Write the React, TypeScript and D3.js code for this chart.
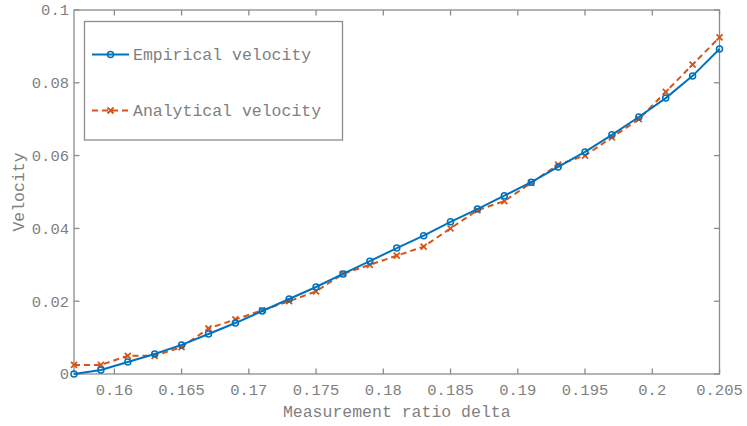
import React, { useEffect, useRef } from 'react';
import * as d3 from 'd3';

// x positions of the measurements
const deltas = [
  0.157, 0.159, 0.161, 0.163, 0.165, 0.167, 0.169, 0.171, 0.173, 0.175,
  0.177, 0.179, 0.181, 0.183, 0.185, 0.187, 0.189, 0.191, 0.193, 0.195,
  0.197, 0.199, 0.201, 0.203, 0.205,
];
const empirical = [
  0, 0.0011, 0.0033, 0.0055, 0.008, 0.011, 0.014, 0.0173, 0.0206, 0.0239,
  0.0275, 0.031, 0.0346, 0.038, 0.0418, 0.0453, 0.049, 0.0527, 0.0569, 0.061,
  0.0657, 0.0706, 0.0758, 0.0819, 0.0893,
];
const analytical = [
  0.0025, 0.0025, 0.005, 0.005, 0.0074, 0.0125, 0.015, 0.0175, 0.02, 0.0227,
  0.0275, 0.03, 0.0325, 0.035, 0.04, 0.045, 0.0475, 0.0525, 0.0575, 0.06,
  0.065, 0.07, 0.0775, 0.085, 0.0925,
];
const xTicks = [0.16, 0.165, 0.17, 0.175, 0.18, 0.185, 0.19, 0.195, 0.2, 0.205];
const yTicks = [0, 0.02, 0.04, 0.06, 0.08, 0.1];
const seriesNames = ['Empirical velocity', 'Analytical velocity'];

const W = 747, H = 426;
const FONT = '"Liberation Mono", "DejaVu Sans Mono", monospace';
const BLUE = '#0072BD', ORANGE = '#D95319', GREY = '#8c8c8c', TXT = '#7f7f7f';

const App = () => {
  const ref = useRef<SVGSVGElement>(null);

  useEffect(() => {
    const svg = d3.select(ref.current);
    svg.selectAll('*').remove();

    const left = 74, right = 719.5, top = 10, bottom = 374;
    const x = d3.scaleLinear().domain([0.157, 0.205]).range([left, right]);
    const y = d3.scaleLinear().domain([0, 0.1]).range([bottom, top]);

    // box + ticks (inward, on all four sides)
    const g = svg.append('g');
    g.append('rect')
      .attr('x', left).attr('y', top)
      .attr('width', right - left).attr('height', bottom - top)
      .attr('fill', 'none').attr('stroke', GREY).attr('stroke-width', 1.3);

    const tk = 5.5;
    xTicks.forEach((t) => {
      g.append('line').attr('x1', x(t)).attr('x2', x(t)).attr('y1', bottom).attr('y2', bottom - tk)
        .attr('stroke', GREY).attr('stroke-width', 1.3);
      g.append('line').attr('x1', x(t)).attr('x2', x(t)).attr('y1', top).attr('y2', top + tk)
        .attr('stroke', GREY).attr('stroke-width', 1.3);
      g.append('text').attr('x', x(t)).attr('y', bottom + 21)
        .attr('text-anchor', 'middle').attr('font-family', FONT).attr('font-size', 15.5)
        .attr('fill', TXT).text(d3.format('')(t));
    });
    yTicks.forEach((t) => {
      g.append('line').attr('x1', left).attr('x2', left + tk).attr('y1', y(t)).attr('y2', y(t))
        .attr('stroke', GREY).attr('stroke-width', 1.3);
      g.append('line').attr('x1', right).attr('x2', right - tk).attr('y1', y(t)).attr('y2', y(t))
        .attr('stroke', GREY).attr('stroke-width', 1.3);
      g.append('text').attr('x', left - 5).attr('y', y(t)).attr('dy', '0.35em')
        .attr('text-anchor', 'end').attr('font-family', FONT).attr('font-size', 15.5)
        .attr('fill', TXT).text(d3.format('')(t));
    });

    // axis labels
    svg.append('text').attr('x', (left + right) / 2).attr('y', 417)
      .attr('text-anchor', 'middle').attr('font-family', FONT).attr('font-size', 16.5)
      .attr('fill', TXT).text('Measurement ratio delta');
    svg.append('text').attr('transform', 'translate(24,' + (top + bottom) / 2 + ') rotate(-90)')
      .attr('text-anchor', 'middle').attr('font-family', FONT).attr('font-size', 16.5)
      .attr('fill', TXT).text('Velocity');

    const line = d3.line<number>().x((d, i) => x(deltas[i])).y((d) => y(d));

    // analytical (dashed, crosses)
    svg.append('path').datum(analytical).attr('d', line)
      .attr('fill', 'none').attr('stroke', ORANGE).attr('stroke-width', 2)
      .attr('stroke-dasharray', '6,4');
    const cs = 3;
    svg.append('g').selectAll('path').data(analytical).enter().append('path')
      .attr('d', (d, i) => {
        const cx = x(deltas[i]), cy = y(d);
        return `M${cx - cs},${cy - cs}L${cx + cs},${cy + cs}M${cx - cs},${cy + cs}L${cx + cs},${cy - cs}`;
      })
      .attr('stroke', ORANGE).attr('stroke-width', 1.8);

    // empirical (solid, circles)
    svg.append('path').datum(empirical).attr('d', line)
      .attr('fill', 'none').attr('stroke', BLUE).attr('stroke-width', 2);
    svg.append('g').selectAll('circle').data(empirical).enter().append('circle')
      .attr('cx', (d, i) => x(deltas[i])).attr('cy', (d) => y(d)).attr('r', 3)
      .attr('fill', 'none').attr('stroke', BLUE).attr('stroke-width', 1.5);

    // legend
    const lg = svg.append('g');
    lg.append('rect').attr('x', 84.5).attr('y', 21.5).attr('width', 258).attr('height', 118.5)
      .attr('fill', 'white').attr('stroke', GREY).attr('stroke-width', 1.3);
    const rows = [54.5, 110.5];
    // blue entry
    lg.append('line').attr('x1', 92).attr('x2', 129).attr('y1', rows[0]).attr('y2', rows[0])
      .attr('stroke', BLUE).attr('stroke-width', 2);
    lg.append('circle').attr('cx', 110.5).attr('cy', rows[0]).attr('r', 3)
      .attr('fill', 'none').attr('stroke', BLUE).attr('stroke-width', 1.5);
    // orange entry
    lg.append('line').attr('x1', 92).attr('x2', 129).attr('y1', rows[1]).attr('y2', rows[1])
      .attr('stroke', ORANGE).attr('stroke-width', 2).attr('stroke-dasharray', '6,4');
    lg.append('path')
      .attr('d', `M${110.5 - cs},${rows[1] - cs}L${110.5 + cs},${rows[1] + cs}M${110.5 - cs},${rows[1] + cs}L${110.5 + cs},${rows[1] - cs}`)
      .attr('stroke', ORANGE).attr('stroke-width', 1.8);
    seriesNames.forEach((s, i) => {
      lg.append('text').attr('x', 133).attr('y', rows[i]).attr('dy', '0.35em')
        .attr('font-family', FONT).attr('font-size', 16.5).attr('fill', TXT).text(s);
    });
  }, []);

  return (
    <svg ref={ref} width={W} height={H}
      style={{ position: 'absolute', left: 0, top: 0, background: 'white' }} />
  );
};

export default App;
